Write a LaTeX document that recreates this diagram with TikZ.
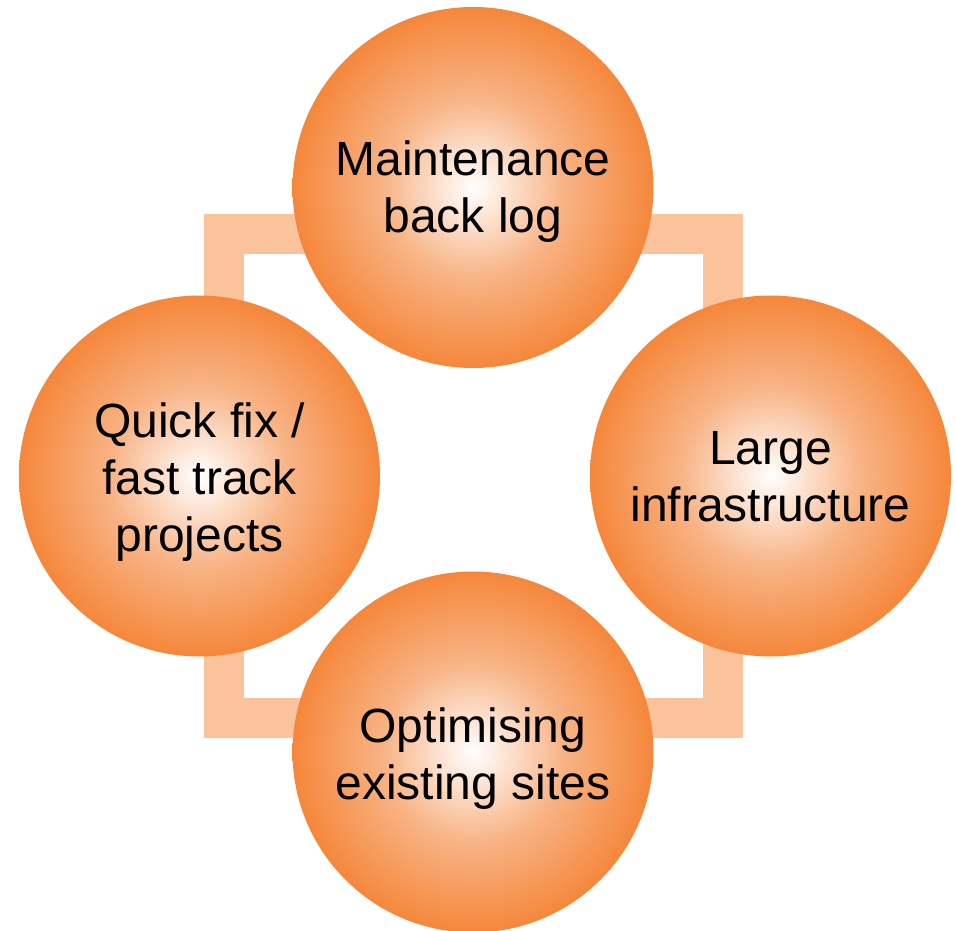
\documentclass[tikz,border=0pt]{standalone}
\usepackage{fontspec}
\setmainfont{Liberation Sans}
\definecolor{ballout}{HTML}{F5873B}
\definecolor{ballmid}{HTML}{F8B385}
\definecolor{framecol}{HTML}{FBC39C}
\pgfdeclareradialshading{ballshade}{\pgfpoint{0bp}{0bp}}{color(0bp)=(white); color(12.5bp)=(ballmid); color(25bp)=(ballout); color(50bp)=(ballout)}
\begin{document}
\begin{tikzpicture}[x=1pt,y=-1pt,
  ball/.style={circle, minimum size=361pt, inner sep=0pt, shading=ballshade},
  txt/.style={align=center, font=\fontsize{48}{57}\selectfont, inner sep=0pt, text=black},
  band/.style={draw=framecol, line width=40pt, line join=miter}]
\useasboundingbox (0,0) rectangle (956,931);
\clip (0,0) rectangle (956,931);
\coordinate (c1) at (223.5,234);
\coordinate (c2) at (723,234);
\coordinate (c3) at (723,717.5);
\coordinate (c4) at (223.5,717.5);
\draw[band] (c1) -- (c2) -- (c3) -- (c4) -- cycle;
\node[ball] (mb) at (473,187.5) {};
\node[ball] (qf) at (199.5,476) {};
\node[ball] (li) at (770.5,476) {};
\node[ball] (oe) at (473,752) {};
\node[txt, yshift=-4pt] (mbt) at (mb.center) {Maintenance\\back log};
\node[txt, yshift=-6.5pt] (qft) at (qf.center) {Quick fix /\\fast track\\projects};
\node[txt, yshift=-1pt] (lit) at (li.center) {Large\\infrastructure};
\node[txt, yshift=-6.8pt] (oet) at (oe.center) {Optimising\\existing sites};
\end{tikzpicture}
\end{document}
